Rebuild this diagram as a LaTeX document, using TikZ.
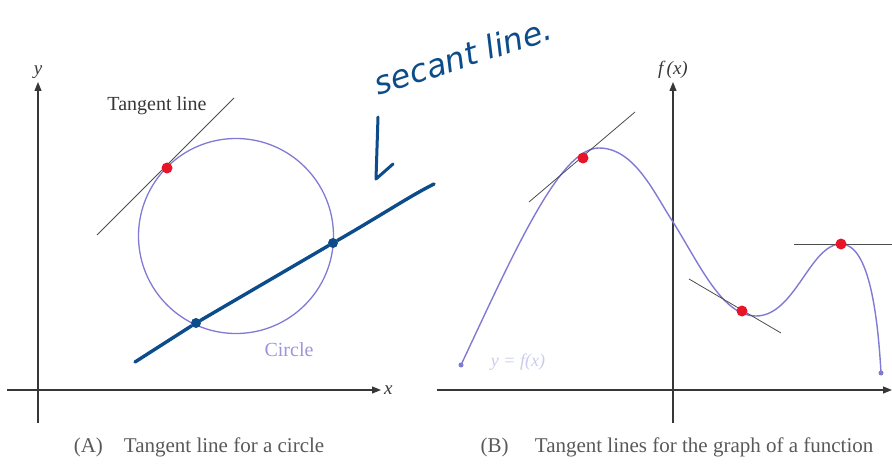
\documentclass[tikz,border=0pt]{standalone}
\usepackage{fontspec}
\setmainfont{Liberation Serif}
\newfontfamily\handfont{DejaVu Sans}
\usetikzlibrary{positioning,arrows.meta}
\definecolor{lav}{RGB}{128,122,212}
\definecolor{inkblue}{RGB}{12,76,138}
\definecolor{dotred}{RGB}{232,20,40}
\definecolor{axisgray}{RGB}{55,55,55}

\begin{document}
\begin{tikzpicture}[x=1pt, y=-1pt,
    axis/.style={draw=axisgray, line width=1.1pt, -{Triangle[length=9pt,width=7pt]}},
    tanline/.style={draw=gray!60!black, line width=0.8pt},
    reddot/.style={circle, fill=dotred, inner sep=0pt, minimum size=11pt},
    bluedot/.style={circle, fill=inkblue, inner sep=0pt, minimum size=10pt},
    enddot/.style={circle, fill=lav, inner sep=0pt, minimum size=5pt},
    lbl/.style={font=\fontsize{19}{22}\selectfont\itshape, text=axisgray, inner sep=1pt},
    caption/.style={font=\fontsize{21}{24}\selectfont, text=gray!70!black}]
  \useasboundingbox (0,0) rectangle (892,468);

  % (A) circle
  \coordinate (ya) at (38,423);
  \coordinate (yb) at (38,82);
  \coordinate (xa) at (7,390);
  \coordinate (xb) at (381,390);
  \draw[axis] (ya) -- (yb);
  \draw[axis] (xa) -- (xb);
  \node[lbl, above=2pt of yb] (ylbl) {y};
  \node[lbl, right=2pt of xb] (xlbl) {x};

  \node[circle, draw=lav, line width=1.3pt, minimum size=195pt] (circ) at (236,236) {};
  \node[font=\fontsize{20}{24}\selectfont, text=lav!80] (circlbl) at (289,350) {Circle};

  \coordinate (tana) at (97,235);
  \coordinate (tanb) at (234,98);
  \draw[tanline] (tana) -- (tanb);
  \node[reddot] (tp) at (167,168) {};
  \node[font=\fontsize{20}{24}\selectfont, text=axisgray] (tanlbl) at (157,106) {Tangent line};

  % secant
  \coordinate (seca) at (135,362);
  \coordinate (secb) at (434,184);
  \node[bluedot] (sp) at (196,323) {};
  \node[bluedot] (sq) at (333,243) {};
  \draw[inkblue, line width=3.4pt, line cap=round] (seca) -- (sp) -- (sq)
    .. controls (385,213) and (410,196) .. (secb);
  \node[font=\handfont\fontsize{32}{36}\selectfont\itshape, text=inkblue, rotate=18]
    (seclbl) at (463,56) {secant line.};
  \coordinate (arrtop) at (378,117);
  \coordinate (arrtip) at (376,179);
  \coordinate (arrhook) at (393,164);
  \draw[inkblue, line width=3pt, line cap=round, line join=round]
    (arrtop) -- (arrtip) -- (arrhook);

  \node[caption] (capa) at (199,447) {(A)\quad Tangent line for a circle};

  % (B) function
  \coordinate (fa) at (673,423);
  \coordinate (fb) at (673,82);
  \coordinate (xc) at (437,390);
  \coordinate (xd) at (892,390);
  \draw[axis] (fa) -- (fb);
  \draw[axis] (xc) -- (xd);
  \node[lbl, above=2pt of fb] (flbl) {f\,(x)};

  \node[enddot] (cstart) at (461,365) {};
  \node[enddot] (cend) at (881,373) {};
  \draw[lav, line width=1.4pt] (cstart.center)
    .. controls (515,250) and (560,148) .. (599,148)
    .. controls (635,148) and (655,195) .. (673,222)
    .. controls (700,265) and (722,316) .. (756,316)
    .. controls (795,316) and (810,244) .. (841,244)
    .. controls (870,244) and (878,320) .. (cend.center);
  \node[font=\fontsize{18}{22}\selectfont\itshape, text=lav!40] (flbl2) at (518,362) {y = f(x)};

  \coordinate (t1a) at (529,202);
  \coordinate (t1b) at (635,112);
  \coordinate (t2a) at (689,279);
  \coordinate (t2b) at (781,333);
  \coordinate (t3a) at (794,244);
  \coordinate (t3b) at (892,244);
  \draw[tanline] (t1a) -- (t1b);
  \draw[tanline] (t2a) -- (t2b);
  \draw[tanline] (t3a) -- (t3b);
  \node[reddot] (r1) at (583,158) {};
  \node[reddot] (r2) at (742,311) {};
  \node[reddot] (r3) at (841,244) {};

  \node[caption] (capb) at (677,447) {(B)\quad\ Tangent lines for the graph of a function};
\end{tikzpicture}
\end{document}
